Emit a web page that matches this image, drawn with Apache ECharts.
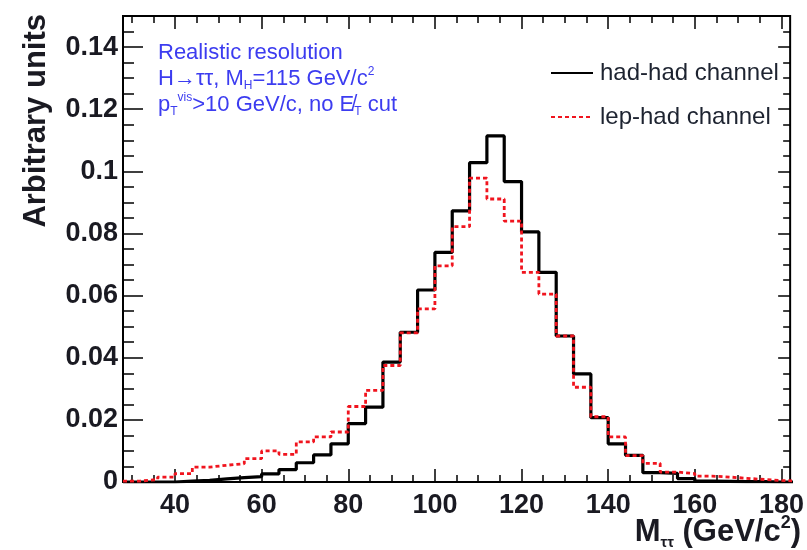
<!DOCTYPE html>
<html>
<head>
<meta charset="utf-8">
<script src="https://cdn.jsdelivr.net/npm/echarts@6/dist/echarts.min.js"></script>
<style>
  html, body { margin: 0; padding: 0; background: #fff; }
  #chart { width: 807px; height: 550px; }
</style>
</head>
<body>
<div id="chart"></div>
<script>
// lower edges of the 4 GeV/c^2 bins
var binLow = [28, 32, 36, 40, 44, 48, 52, 56, 60, 64, 68, 72, 76, 80, 84, 88, 92, 96, 100, 104,
  108, 112, 116, 120, 124, 128, 132, 136, 140, 144, 148, 152, 156, 160, 164, 168, 172, 176, 180];
var binWidth = 4;

// had-had channel (black, solid)
var hadHad = [0, 0, 0, 0.0003, 0.0005, 0.001, 0.0014, 0.0017, 0.0026, 0.004, 0.0062, 0.0087, 0.0123,
  0.0188, 0.0241, 0.0386, 0.0482, 0.0618, 0.0739, 0.0873, 0.1028, 0.1114, 0.0967, 0.0805, 0.0675,
  0.047, 0.0348, 0.0207, 0.0123, 0.0086, 0.003, 0.0028, 0.0011, 0.0003, 0.0002, 0.0001, 0.0001, 0, 0];

// lep-had channel (red, dashed)
var lepHad = [0.0003, 0.0008, 0.0016, 0.0027, 0.0048, 0.0054, 0.0059, 0.0075, 0.01, 0.0089, 0.0129,
  0.0145, 0.0161, 0.0243, 0.0295, 0.0375, 0.048, 0.0557, 0.0696, 0.0822, 0.0978, 0.0911, 0.084,
  0.0675, 0.0605, 0.047, 0.0305, 0.021, 0.0145, 0.0085, 0.006, 0.0032, 0.0027, 0.0019, 0.0016,
  0.0012, 0.0008, 0.0005, 0.0003];

var xLabels = [40, 60, 80, 100, 120, 140, 160, 180];
var xMinor = [30, 35, 45, 50, 55, 65, 70, 75, 85, 90, 95, 105, 110, 115, 125, 130, 135, 145, 150,
  155, 165, 170, 175];
var yLabels = [0, 0.02, 0.04, 0.06, 0.08, 0.1, 0.12, 0.14];
var yMinor = [0.005, 0.01, 0.015, 0.025, 0.03, 0.035, 0.045, 0.05, 0.055, 0.065, 0.07, 0.075, 0.085,
  0.09, 0.095, 0.105, 0.11, 0.115, 0.125, 0.13, 0.135, 0.145];

var FONT = "'Liberation Sans', Arial, sans-serif";
var INK = "#1a1a22";
var BLUE = "#3c3cf0";

// step histogram outline: one point per lower edge + closing point at the last upper edge
function histPoints(vals) {
  var pts = binLow.map(function (e, i) { return [e, vals[i]]; });
  pts.push([binLow[binLow.length - 1] + binWidth, vals[vals.length - 1]]);
  return pts;
}

function xAxisDef(pos, ticks, len, showLabel) {
  return {
    type: "value", position: pos, min: 28, max: 182,
    axisLine: { show: false, onZero: false },
    axisTick: { show: true, inside: true, length: len, customValues: ticks,
      lineStyle: { color: "#000", width: 1.5 } },
    axisLabel: { show: showLabel, customValues: xLabels, margin: 10,
      fontSize: 27, fontWeight: "bold", fontFamily: FONT, color: INK },
    splitLine: { show: false }
  };
}

function yAxisDef(pos, ticks, len, showLabel) {
  return {
    type: "value", position: pos, min: 0, max: 0.15,
    axisLine: { show: false, onZero: false },
    axisTick: { show: true, inside: true, length: len, customValues: ticks,
      lineStyle: { color: "#000", width: 1.5 } },
    axisLabel: { show: showLabel, customValues: yLabels, margin: 5,
      fontSize: 27, fontWeight: "bold", fontFamily: FONT, color: INK,
      formatter: function (v) { return String(v); } },
    splitLine: { show: false }
  };
}

var chart = echarts.init(document.getElementById("chart"));

var option = {
  animation: false,
  backgroundColor: "#fff",
  grid: {
    left: 123, right: 10, top: 16, bottom: 68,
    show: true, borderColor: "#000", borderWidth: 2, backgroundColor: "transparent"
  },
  title: [
    {
      right: 1, bottom: -5,
      text: "{m|M}{s|ττ}{m| (GeV/c}{p|2}{m|)}",
      textStyle: {
        rich: {
          m: { fontSize: 31, fontWeight: "bold", fontFamily: FONT, color: INK, lineHeight: 36 },
          s: { fontSize: 15, fontWeight: "bold", fontFamily: FONT, color: INK, verticalAlign: "bottom", lineHeight: 36 },
          p: { fontSize: 18, fontWeight: "bold", fontFamily: FONT, color: INK, verticalAlign: "top", lineHeight: 36 }
        }
      }
    },
    {
      left: 153, top: 35,
      text: "{t|Realistic resolution}\n{t|H→ττ, M}{s|H}{t|=115 GeV/c}{p|2}\n{t|p}{s|T}{p|vis}{t|>10 GeV/c, no E\u0338}{s|T}{t| cut}",
      textStyle: {
        fontWeight: "normal",
        rich: {
          t: { fontSize: 22, fontWeight: "normal", fontFamily: FONT, color: BLUE, lineHeight: 26 },
          s: { fontSize: 12, fontWeight: "normal", fontFamily: FONT, color: BLUE, verticalAlign: "bottom", lineHeight: 24 },
          p: { fontSize: 12, fontWeight: "normal", fontFamily: FONT, color: BLUE, verticalAlign: "top", lineHeight: 26 }
        }
      }
    }
  ],
  legend: {
    orient: "vertical",
    left: 545, top: 56,
    itemWidth: 42, itemHeight: 14, itemGap: 20,
    itemStyle: { opacity: 0 },
    textStyle: { fontSize: 24, fontFamily: FONT, color: "#1d2330", padding: [0, 0, 0, 2] },
    data: ["had-had channel", "lep-had channel"]
  },
  xAxis: [
    xAxisDef("bottom", xLabels, 13, true),
    xAxisDef("bottom", xMinor, 7, false),
    xAxisDef("top", xLabels, 13, false),
    xAxisDef("top", xMinor, 7, false)
  ],
  yAxis: [
    yAxisDef("left", yLabels, 20, true),
    yAxisDef("left", yMinor, 11, false),
    yAxisDef("right", yLabels, 12, false),
    yAxisDef("right", yMinor, 7, false)
  ],
  graphic: [
    {
      type: "text", x: 36, y: 14, rotation: Math.PI / 2,
      style: { text: "Arbitrary units", align: "right", verticalAlign: "middle",
        fontSize: 31, fontWeight: "bold", fontFamily: FONT, fill: INK }
    }
  ],
  series: [
    {
      name: "had-had channel", type: "line", step: "end",
      xAxisIndex: 0, yAxisIndex: 0,
      data: histPoints(hadHad),
      symbol: "none", clip: true, z: 2,
      lineStyle: { color: "#000", width: 3.2 },
      itemStyle: { color: "#000" }
    },
    {
      name: "lep-had channel", type: "line", step: "end",
      xAxisIndex: 0, yAxisIndex: 0,
      data: histPoints(lepHad),
      symbol: "none", clip: true, z: 3,
      lineStyle: { color: "#f0141e", width: 2.8, type: [4, 3] },
      itemStyle: { color: "#f0141e" }
    }
  ]
};

chart.setOption(option);
window.onresize = function () {
  chart.resize();
};
</script>
</body>
</html>
